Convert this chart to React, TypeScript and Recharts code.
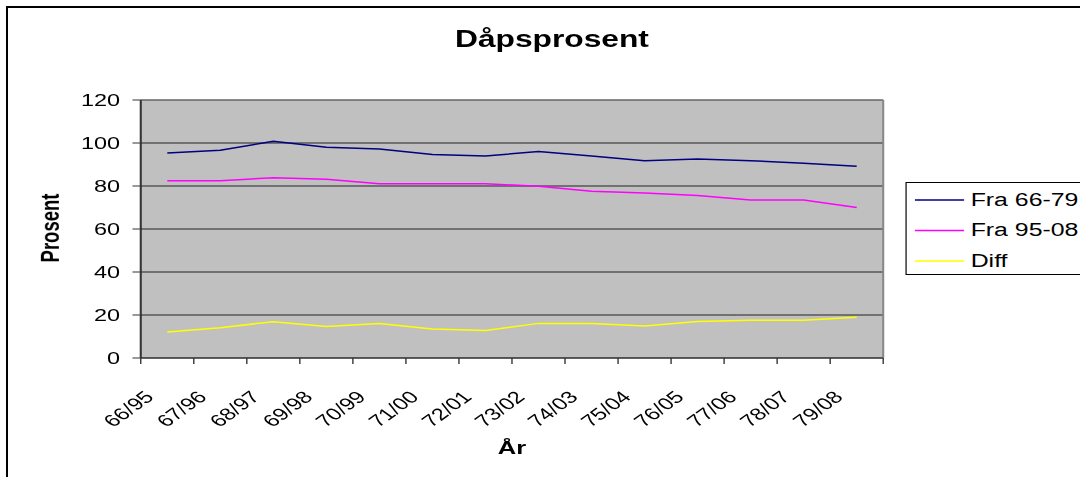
import React from "react";
import {
  LineChart,
  Line,
  XAxis,
  YAxis,
  CartesianGrid,
  Legend,
  ReferenceLine,
} from "recharts";

const years = [
  "66/95", "67/96", "68/97", "69/98", "70/99", "71/00", "72/01",
  "73/02", "74/03", "75/04", "76/05", "77/06", "78/07", "79/08",
];
const fra6679 = [95.4, 96.6, 100.8, 98.0, 97.2, 94.6, 94.0, 96.0, 94.0, 91.8, 92.6, 91.8, 90.6, 89.2];
const fra9508 = [82.5, 82.5, 83.8, 83.1, 81.0, 81.0, 81.0, 79.9, 77.6, 76.8, 75.6, 73.5, 73.5, 70.0];
const diff = [12.1, 14.1, 16.9, 14.7, 16.1, 13.5, 12.8, 16.1, 16.1, 14.9, 17.0, 17.6, 17.6, 18.9];
const seriesNames = ["Fra 66-79", "Fra 95-08", "Diff"];
const yTicks = [0, 20, 40, 60, 80, 100, 120];

const data = years.map((year, i) => ({
  pos: i + 0.5,
  year,
  a: fra6679[i],
  b: fra9508[i],
  c: diff[i],
}));
const xTicks = years.map((_, i) => i).concat(years.length);

// the reference is stretched sideways, so draw narrow and scale up
const STRETCH = 1.38;
const CHART_W = 790;
const CHART_H = 477;
const PLOT_L = 102;
const PLOT_R = 640;
const BAND = (PLOT_R - PLOT_L) / years.length;
const FONT = "'Liberation Sans', Arial, sans-serif";

const XTick = (props: any) => {
  const { x, y, payload } = props;
  const i = payload.value;
  if (i >= years.length) return null;
  const cx = x + BAND / 2;
  return (
    <text
      transform={`translate(${cx - 9},${y + 32}) rotate(-45)`}
      textAnchor="end"
      fontSize={17}
      fontFamily={FONT}
      fill="#000">
      {years[i]}
    </text>
  );
};

const LegendBox = (props: any) => {
  const items = [...(props.payload || [])].sort(
    (p: any, q: any) => seriesNames.indexOf(p.value) - seriesNames.indexOf(q.value),
  );
  return (
    <svg width={140} height={93} style={{ display: "block" }}>
      <rect x={0.5} y={0.5} width={160} height={92} fill="#fff" stroke="#000" />
      {items.map((p: any, i: number) => {
        const cy = 18 + i * 30.5;
        return (
          <g key={p.value}>
            <line x1={7} x2={42.6} y1={cy} y2={cy} stroke={p.color} strokeWidth={1.5} />
            <text x={47.4} y={cy + 6} fontSize={18} fontFamily={FONT} fill="#000">
              {p.value}
            </text>
          </g>
        );
      })}
    </svg>
  );
};

export default function App() {
  return (
    <div
      style={{
        position: "fixed",
        left: 0,
        top: 0,
        width: 1080,
        height: 477,
        overflow: "hidden",
        background: "#fff",
      }}>
      <div
        style={{
          position: "absolute",
          left: 6,
          top: 6,
          width: 1200,
          height: 600,
          borderLeft: "2px solid #000",
          borderTop: "2px solid #000",
        }}
      />
      <div
        style={{
          position: "absolute",
          left: 0,
          top: 0,
          width: CHART_W,
          height: CHART_H,
          transform: `scaleX(${STRETCH})`,
          transformOrigin: "0 0",
        }}>
        <LineChart
          width={CHART_W}
          height={CHART_H}
          data={data}
          margin={{ top: 100, right: CHART_W - PLOT_R, bottom: 59, left: PLOT_L - 60 }}>
          <CartesianGrid
            vertical={false}
            stroke="#222"
            fill="#C0C0C0"
            fillOpacity={1}
          />
          <XAxis
            type="number"
            dataKey="pos"
            domain={[0, years.length]}
            ticks={xTicks}
            interval={0}
            height={60}
            tickSize={6}
            tick={<XTick />}
            axisLine={{ stroke: "#333" }}
            tickLine={{ stroke: "#333" }}
          />
          <YAxis
            type="number"
            domain={[0, 120]}
            ticks={yTicks}
            interval={0}
            width={60}
            tickSize={6}
            tickMargin={9}
            tick={{ fontSize: 17, fontFamily: FONT, fill: "#000" }}
            axisLine={{ stroke: "#333", strokeWidth: 1.5 }}
            tickLine={{ stroke: "#333" }}
          />
          <ReferenceLine y={120} stroke="#888" />
          <ReferenceLine x={years.length} stroke="#888" strokeWidth={1.5} />
          <Line
            name={seriesNames[0]}
            dataKey="a"
            stroke="#000080"
            strokeWidth={1.5}
            dot={false}
            isAnimationActive={false}
          />
          <Line
            name={seriesNames[1]}
            dataKey="b"
            stroke="#FF00FF"
            strokeWidth={1.5}
            dot={false}
            isAnimationActive={false}
          />
          <Line
            name={seriesNames[2]}
            dataKey="c"
            stroke="#FFFF00"
            strokeWidth={1.5}
            dot={false}
            isAnimationActive={false}
          />
          <Legend
            layout="horizontal"
            align="center"
            verticalAlign="middle"
            content={<LegendBox />}
            wrapperStyle={{ position: "absolute", left: 656, top: 182, width: 140, height: 93 }}
          />
        </LineChart>
        <svg
          width={CHART_W}
          height={CHART_H}
          style={{ position: "absolute", left: 0, top: 0, pointerEvents: "none" }}>
          <text
            x={400}
            y={47}
            textAnchor="middle"
            fontSize={23}
            fontWeight="bold"
            fontFamily={FONT}>
            Dåpsprosent
          </text>
          <text
            x={43}
            y={228}
            textAnchor="middle"
            transform="rotate(-90, 43, 228)"
            fontSize={18.5}
            fontWeight="bold"
            fontFamily={FONT}>
            Prosent
          </text>
          <text
            x={371}
            y={454}
            textAnchor="middle"
            fontSize={18.5}
            fontWeight="bold"
            fontFamily={FONT}>
            År
          </text>
        </svg>
      </div>
    </div>
  );
}
